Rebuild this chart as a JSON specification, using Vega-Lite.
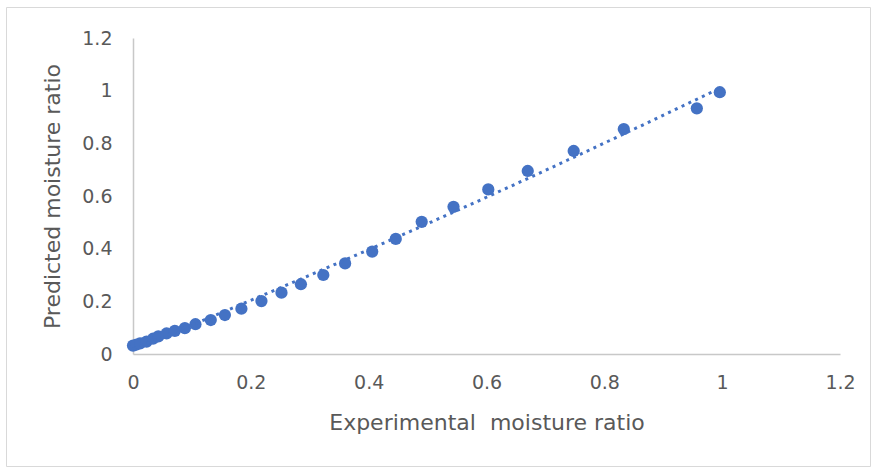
{
  "$schema": "https://vega.github.io/schema/vega-lite/v6.json",
  "autosize": "none",
  "width": 864,
  "height": 459,
  "padding": {"left": 6, "top": 7, "right": 7, "bottom": 2},
  "background": "white",
  "config": {
    "view": {"stroke": "#D9D9D9", "strokeWidth": 1},
    "font": "DejaVu Sans"
  },
  "data": {
    "values": [
      {"exp": 0.000, "pred": 0.032},
      {"exp": 0.006, "pred": 0.036},
      {"exp": 0.012, "pred": 0.040},
      {"exp": 0.023, "pred": 0.047},
      {"exp": 0.034, "pred": 0.058},
      {"exp": 0.043, "pred": 0.067},
      {"exp": 0.057, "pred": 0.078},
      {"exp": 0.071, "pred": 0.088},
      {"exp": 0.088, "pred": 0.098},
      {"exp": 0.106, "pred": 0.113},
      {"exp": 0.132, "pred": 0.129},
      {"exp": 0.156, "pred": 0.148},
      {"exp": 0.184, "pred": 0.172},
      {"exp": 0.218, "pred": 0.201},
      {"exp": 0.252, "pred": 0.233},
      {"exp": 0.285, "pred": 0.265},
      {"exp": 0.323, "pred": 0.300},
      {"exp": 0.360, "pred": 0.344},
      {"exp": 0.406, "pred": 0.389},
      {"exp": 0.446, "pred": 0.437},
      {"exp": 0.490, "pred": 0.502},
      {"exp": 0.544, "pred": 0.559},
      {"exp": 0.603, "pred": 0.625},
      {"exp": 0.670, "pred": 0.695},
      {"exp": 0.748, "pred": 0.771},
      {"exp": 0.833, "pred": 0.854},
      {"exp": 0.957, "pred": 0.933},
      {"exp": 0.996, "pred": 0.994}
    ]
  },
  "encoding": {
    "x": {
      "field": "exp",
      "type": "quantitative",
      "scale": {"domain": [0, 1.2], "range": [127, 834], "nice": false, "zero": true},
      "axis": {
        "title": "Experimental\u00a0\u00a0moisture ratio",
        "values": [0, 0.2, 0.4, 0.6, 0.8, 1, 1.2],
        "format": "~g",
        "offset": -112,
        "grid": false,
        "ticks": false,
        "domainColor": "#C8C8C8",
        "domainWidth": 1.5,
        "labelColor": "#595959",
        "labelFontSize": 19,
        "labelFont": "DejaVu Sans",
        "labelPadding": 19,
        "labelFlush": false,
        "titleColor": "#595959",
        "titleFontSize": 22,
        "titleFont": "DejaVu Sans",
        "titleFontWeight": "normal",
        "titlePadding": 20
      }
    },
    "y": {
      "field": "pred",
      "type": "quantitative",
      "scale": {"domain": [0, 1.2], "range": [347, 31], "nice": false, "zero": true},
      "axis": {
        "title": "Predicted moisture ratio",
        "values": [0, 0.2, 0.4, 0.6, 0.8, 1, 1.2],
        "format": "~g",
        "offset": -127,
        "grid": false,
        "ticks": false,
        "domainColor": "#C8C8C8",
        "domainWidth": 1.5,
        "labelColor": "#595959",
        "labelFontSize": 19,
        "labelFont": "DejaVu Sans",
        "labelPadding": 21,
        "labelFlush": false,
        "titleColor": "#595959",
        "titleFontSize": 22,
        "titleFont": "DejaVu Sans",
        "titleFontWeight": "normal",
        "titlePadding": 17
      }
    }
  },
  "layer": [
    {
      "mark": {"type": "circle", "size": 150, "color": "#4472C4", "opacity": 1}
    },
    {
      "transform": [
        {"regression": "pred", "on": "exp", "method": "poly", "order": 2, "extent": [0, 1]}
      ],
      "mark": {"type": "line", "color": "#4472C4", "strokeWidth": 3, "strokeDash": [3, 4.5], "strokeCap": "butt"}
    }
  ]
}
